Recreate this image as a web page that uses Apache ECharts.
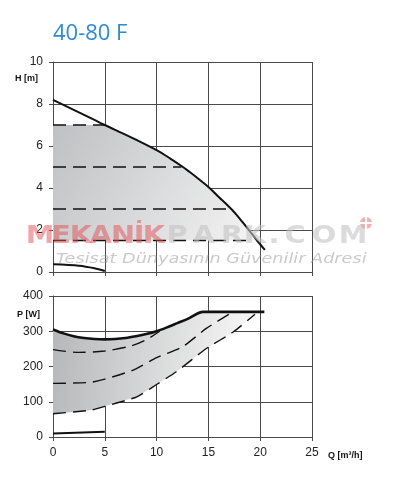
<!DOCTYPE html>
<html>
<head>
<meta charset="utf-8">
<script src="https://cdn.jsdelivr.net/npm/echarts@6/dist/echarts.min.js"></script>
<style>
html, body { margin: 0; padding: 0; background: #fff; }
#chart-container { width: 398px; height: 480px; }
</style>
</head>
<body>
<div id="chart-container"></div>
<script>
// Q [m3/h] on x, H [m] on top chart, P [W] on bottom chart
var qTicks = [0, 5, 10, 15, 20, 25];

var hMax = [[0, 8.2], [2, 7.72], [4, 7.24], [5, 7.0], [6, 6.77], [8, 6.3], [10, 5.8], [11.2, 5.44], [12.4, 5.05],
    [13.2, 4.76], [14, 4.45], [15, 4.05], [16, 3.57], [16.7, 3.25], [17.3, 2.95], [17.8, 2.67], [18.3, 2.37],
    [18.9, 2.0], [19.7, 1.5], [20.45, 1.05]];
var hMin = [[0, 0.37], [2.5, 0.3], [4, 0.18], [5, 0.05]];
var hLevels = [7, 5, 3, 1.5];
var hLevelEnds = [5, 12.4, 17.1, 19.3];

var pMax = [[0, 305], [1, 294], [2, 286], [3, 281], [4, 278], [5, 277], [6, 278], [7, 281], [8, 286],
    [9, 292], [10, 300], [11, 311], [12, 323], [13, 335], [14.5, 355], [20.4, 355]];
var pDash1 = [[0, 248], [2.5, 240], [5, 244], [7.5, 258], [9, 276], [10.3, 300]];
var pDash2 = [[0, 152], [3.6, 155], [5, 164], [7.75, 190], [10, 225], [12.5, 256], [14.8, 308], [17.2, 352]];
var pDash3 = [[0, 66], [3.6, 76], [5, 87], [8.1, 114], [10, 149], [11.9, 185], [14.8, 251], [17.4, 298], [19.5, 348]];
var pMin = [[0, 10], [5, 15]];

// shaded operating areas
var hArea = [[0, 7], [5, 7]].concat(hMax.filter(function (p) { return p[0] > 5 && p[1] >= 1.5; })).concat([[0, 1.5]]);
var pArea = pMax.filter(function (p) { return p[0] <= 14.5; }).concat([[19.5, 355]]).concat(pDash3.slice().reverse());

var dom = document.getElementById("chart-container");
var myChart = echarts.init(dom, null, { renderer: "canvas" });

var lineCol = "#4a4a4a";
var dashType = [13, 7];

function xAxisCfg(gridIndex, showLabels) {
    return {
        type: "value", gridIndex: gridIndex, min: 0, max: 25, interval: 5,
        axisLine: { show: true, lineStyle: { color: lineCol } },
        axisTick: { show: true, length: 4, lineStyle: { color: lineCol } },
        axisLabel: { show: showLabels, color: "#222", fontSize: 12, margin: 10, fontFamily: "Liberation Sans" },
        splitLine: { show: true, lineStyle: { color: lineCol, width: 1 } }
    };
}
function yAxisCfg(gridIndex, max, interval) {
    return {
        type: "value", gridIndex: gridIndex, min: 0, max: max, interval: interval,
        axisLine: { show: true, lineStyle: { color: lineCol } },
        axisTick: { show: true, length: 4, lineStyle: { color: lineCol } },
        axisLabel: { color: "#222", fontSize: 12, margin: 10, fontFamily: "Liberation Sans" },
        splitLine: { show: true, lineStyle: { color: lineCol, width: 1 } }
    };
}
function areaSeries(poly, xi, grad) {
    return {
        type: "custom", xAxisIndex: xi, yAxisIndex: xi, z: 1, silent: true,
        data: [[0, 0]],
        renderItem: function (params, api) {
            var pts = poly.map(function (p) { return api.coord(p); });
            return { type: "polygon", shape: { points: pts }, style: { fill: grad } };
        }
    };
}
function lineSeries(data, xi, width, dashed, smooth) {
    return {
        type: "line", xAxisIndex: xi, yAxisIndex: xi, data: data, symbol: "none", z: 3, silent: true,
        smooth: smooth || false,
        lineStyle: { color: "#111", width: width, type: dashed ? dashType : "solid" }
    };
}

var series = [
    areaSeries(hArea, 0, new echarts.graphic.LinearGradient(0, 0, 1, 1, [
        { offset: 0, color: "#bfc0c3" }, { offset: 1, color: "#f4f4f4" }])),
    areaSeries(pArea, 1, new echarts.graphic.LinearGradient(0, 0, 1, 0.2, [
        { offset: 0, color: "#b6b7b9" }, { offset: 1, color: "#f8f8f8" }])),
    lineSeries(hMax, 0, 2, false, 0.5),
    lineSeries(hMin, 0, 2, false, 0.3),
    lineSeries(pMax, 1, 2.6, false, 0.3),
    lineSeries(pMin, 1, 2, false),
    lineSeries(pDash1, 1, 1.4, true, 0.3),
    lineSeries(pDash2, 1, 1.4, true, 0.2),
    lineSeries(pDash3, 1, 1.4, true, 0.2)
];
hLevels.forEach(function (h, i) {
    series.push(lineSeries([[0, h], [hLevelEnds[i], h]], 0, 1.4, true));
});

// watermark letters
var wmLetters = ["M", "E", "K", "A", "N", "İ", "K", "P", "A", "R", "K", ".", "C", "O", "M"];
var wmCenters = [40, 61, 81, 101, 123, 139, 154, 177, 204, 232, 255, 274, 295, 324, 353];
var graphics = [
    { type: "text", left: 53, top: 23, style: { text: "40-80 F", fill: "#2c8bd0", font: "22px 'Open Sans'" } },
    { type: "text", left: 15, top: 74, style: { text: "H [m]", fill: "#111", font: "bold 9px 'Liberation Sans'" } },
    { type: "text", left: 17, top: 310, style: { text: "P [W]", fill: "#111", font: "bold 9px 'Liberation Sans'" } },
    { type: "text", left: 328, top: 451, style: { text: "Q [m³/h]", fill: "#111", font: "bold 9px 'Liberation Sans'" } },
    { type: "text", x: 56, y: 252, z: 10, scaleX: 1.26, silent: true,
      style: { text: "Tesisat Dünyasının Güvenilir Adresi", fill: "rgba(150,150,150,0.5)", font: "italic 14px 'DejaVu Sans'" } },
    { type: "circle", shape: { cx: 366, cy: 223, r: 6 }, z: 10, style: { fill: "rgba(235,110,110,0.55)" } },
    { type: "rect", shape: { x: 360, y: 222, width: 12, height: 2 }, z: 11, style: { fill: "#fff" } },
    { type: "rect", shape: { x: 365, y: 217, width: 2, height: 12 }, z: 11, style: { fill: "#fff" } }
];
wmLetters.forEach(function (ch, i) {
    graphics.push({
        type: "text", x: wmCenters[i], y: 249, z: 10, silent: true, scaleX: 1.15,
        style: {
            text: ch, align: "center", verticalAlign: "bottom",
            fill: i < 7 ? "rgba(225,80,85,0.5)" : "rgba(195,195,195,0.6)",
            font: "bold 25px 'DejaVu Sans'"
        }
    });
});

var option = {
    animation: false,
    grid: [
        { left: 53, top: 62, width: 259, height: 210 },
        { left: 53, top: 296, width: 259, height: 141 }
    ],
    xAxis: [xAxisCfg(0, false), xAxisCfg(1, true)],
    yAxis: [yAxisCfg(0, 10, 2), yAxisCfg(1, 400, 100)],
    graphic: graphics,
    series: series
};

myChart.setOption(option);
window.addEventListener("resize", myChart.resize);
</script>
</body>
</html>
